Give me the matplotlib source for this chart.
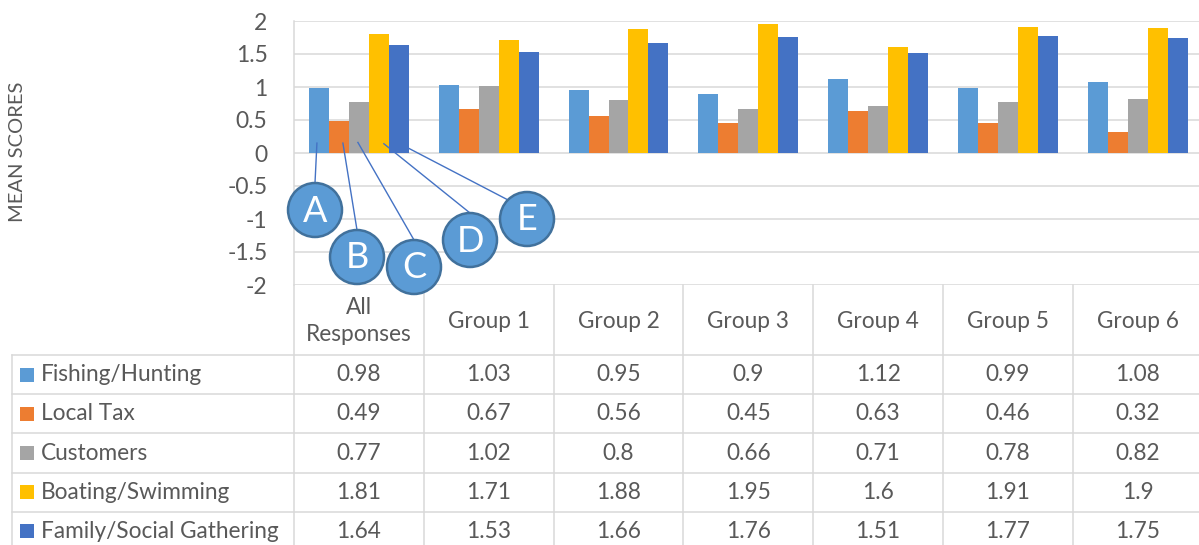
import matplotlib.pyplot as plt
import numpy as np
from matplotlib.patches import Circle, Rectangle

plt.rcParams['font.family'] = ['Lato', 'DejaVu Sans']

# --- data ---
categories = ['All\nResponses', 'Group 1', 'Group 2', 'Group 3',
              'Group 4', 'Group 5', 'Group 6']
series_names = ['Fishing/Hunting', 'Local Tax', 'Customers',
                'Boating/Swimming', 'Family/Social Gathering']
fishing = [0.98, 1.03, 0.95, 0.9, 1.12, 0.99, 1.08]
local_tax = [0.49, 0.67, 0.56, 0.45, 0.63, 0.46, 0.32]
customers = [0.77, 1.02, 0.8, 0.66, 0.71, 0.78, 0.82]
boating = [1.81, 1.71, 1.88, 1.95, 1.6, 1.91, 1.9]
family = [1.64, 1.53, 1.66, 1.76, 1.51, 1.77, 1.75]
series_values = [fishing, local_tax, customers, boating, family]
callout_labels = ['A', 'B', 'C', 'D', 'E']

colors = ['#5B9BD5', '#ED7D31', '#A5A5A5', '#FFC000', '#4472C4']
TXT = '#595959'
GRID = '#D9D9D9'
FS = 16.3

W, H = 1199, 545
fig = plt.figure(figsize=(W / 100, H / 100), dpi=100)

# layout (pixels, from top-left)
PLOT_L, PLOT_T, PLOT_B = 294, 21, 285
COL_W = 129.8
TABLE_L = 12
HEAD_B = 355
ROW_H = 39.2

ax = fig.add_axes([PLOT_L / W, 1 - PLOT_B / H, 7 * COL_W / W, (PLOT_B - PLOT_T) / H])
x = np.arange(len(categories))
bw = 0.154
for j, (vals, c) in enumerate(zip(series_values, colors)):
    ax.bar(x + (j - 2) * bw, vals, bw, color=c, zorder=3)

ax.set_xlim(-0.5, len(categories) - 0.5)
ax.set_ylim(-2, 2)
ax.set_yticks(np.arange(-2, 2.01, 0.5))
ax.set_yticklabels(['%g' % t for t in np.arange(-2, 2.01, 0.5)])
ax.set_xticks([])
ax.tick_params(axis='y', length=0, pad=19, labelsize=16.5, labelcolor=TXT)
ax.grid(True, axis='y', color=GRID, linewidth=1.1, zorder=0)
for s in ['top', 'right', 'bottom']:
    ax.spines[s].set_visible(False)
ax.spines['left'].set_color(GRID)
ax.spines['left'].set_linewidth(1.1)

fig.text(18 / W, 1 - 152 / H, 'MEAN SCORES', rotation=90, ha='center', va='center',
         fontsize=14.5, color=TXT)

# --- overlay in pixel coords for data table and callouts ---
ov = fig.add_axes([0, 0, 1, 1], facecolor='none')
ov.set_xlim(0, W)
ov.set_ylim(H, 0)
ov.axis('off')

n_rows = len(series_names)
table_bottom = HEAD_B + n_rows * ROW_H
col_edges = PLOT_L + COL_W * np.arange(len(categories) + 1)

# horizontal lines
ov.plot([TABLE_L, W], [HEAD_B, HEAD_B], color=GRID, lw=1.1)
for r in range(1, n_rows + 1):
    yy = HEAD_B + r * ROW_H
    ov.plot([TABLE_L, W], [yy, yy], color=GRID, lw=1.1)
# vertical lines
ov.plot([TABLE_L, TABLE_L], [HEAD_B, table_bottom], color=GRID, lw=1.1)
ov.plot([PLOT_L, PLOT_L], [PLOT_B, table_bottom], color=GRID, lw=1.1)
for xe in col_edges[1:-1]:
    ov.plot([xe, xe], [PLOT_B, table_bottom], color=GRID, lw=1.1)

# header
for i, cat in enumerate(categories):
    ov.text(col_edges[i] + COL_W / 2, (PLOT_B + HEAD_B) / 2 + 1, cat, ha='center', va='center',
            fontsize=FS, color=TXT, linespacing=1.3)

# rows
for r, (name, vals, c) in enumerate(zip(series_names, series_values, colors)):
    yc = HEAD_B + (r + 0.5) * ROW_H
    ov.add_patch(Rectangle((20, yc - 7), 14, 14, color=c, lw=0))
    ov.text(41, yc, name, ha='left', va='center', fontsize=FS, color=TXT)
    for i, v in enumerate(vals):
        ov.text(col_edges[i] + COL_W / 2, yc, '%g' % v, ha='center', va='center',
                fontsize=FS, color=TXT)

# --- callouts A-E pointing at the first group's bars ---
R = 27
callouts = [  # (bar index, dx in bar widths, y value, circle centre px, attach angle)
    (0, -0.1, 0.15, (315, 210), 90),
    (1, 0.2, 0.15, (357, 257), 90),
    (2, -0.05, 0.16, (414, 267), 90),
    (3, 0.25, 0.14, (470, 240), 90),
    (4, 0.5, 0.07, (527, 219), 135),
]
for lab, (j, dx, yv, (cx, cy), ang) in zip(callout_labels, callouts):
    sx, sy = ax.transData.transform((x[0] + (j - 2 + dx) * bw, yv))
    sy = H - sy
    ex = cx + R * np.cos(np.radians(ang))
    ey = cy - R * np.sin(np.radians(ang))
    ov.plot([sx, ex], [sy, ey], color='#4472C4', lw=1.0, zorder=5)
    ov.add_patch(Circle((cx, cy), R, facecolor='#5B9BD5', edgecolor='#41719C',
                        lw=1.8, zorder=6))
    ov.text(cx, cy + 1, lab, ha='center', va='center', fontsize=26, color='white', zorder=7)

fig.savefig('out.png', dpi=100)
